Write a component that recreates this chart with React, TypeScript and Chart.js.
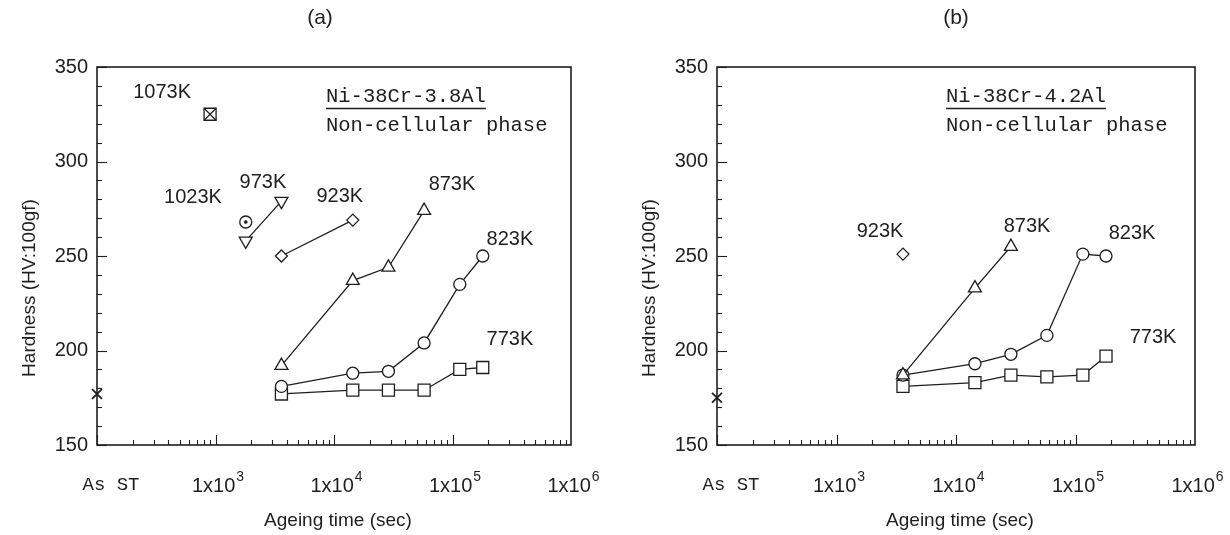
import React, { useEffect, useRef } from "react";
import { Chart, registerables } from "chart.js";

Chart.register(...registerables);

// ---------- data ----------
const AS_ST_TIME = 100; // "As ST" is plotted at the left end of the time axis
const xTickValues = [100, 1000, 10000, 100000, 1000000];
const xTickBases = ["As ST", "1x10", "1x10", "1x10", "1x10"];
const xTickExps = ["", "3", "4", "5", "6"];
const yMin = 150;
const yMax = 350;
const yStep = 50;
const yMinorStep = 10;

// Panel (a) Ni-38Cr-3.8Al
const aAsStHardness = [177];
const a773Time = [3600, 14400, 28800, 57600, 115200, 180000];
const a773Hard = [177, 179, 179, 179, 190, 191];
const a823Time = [3600, 14400, 28800, 57600, 115200, 180000];
const a823Hard = [181, 188, 189, 204, 235, 250];
const a873Time = [3600, 14400, 28800, 57600];
const a873Hard = [192, 237, 244, 274];
const a923Time = [3600, 14400];
const a923Hard = [250, 269];
const a973Time = [1800, 3600];
const a973Hard = [258, 279];
const a1023Time = [1800];
const a1023Hard = [268];
const a1073Time = [900];
const a1073Hard = [325];

// Panel (b) Ni-38Cr-4.2Al
const bAsStHardness = [175];
const b773Time = [3600, 14400, 28800, 57600, 115200, 180000];
const b773Hard = [181, 183, 187, 186, 187, 197];
const b823Time = [3600, 14400, 28800, 57600, 115200, 180000];
const b823Hard = [187, 193, 198, 208, 251, 250];
const b873Time = [3600, 14400, 28800];
const b873Hard = [187, 233, 255];
const b923Time = [3600];
const b923Hard = [251];

// temperature labels (text, time, hardness)
const aLabelText = ["1073K", "1023K", "973K", "923K", "873K", "823K", "773K"];
const aLabelTime = [354, 646, 2512, 11200, 99000, 305000, 305000];
const aLabelHard = [336.5, 281, 289, 281.5, 288, 258.5, 206];
const bLabelText = ["923K", "873K", "823K", "773K"];
const bLabelTime = [2312, 39300, 297000, 446000];
const bLabelHard = [263, 265.5, 262, 207];

// ---------- styles ----------
const INK = "#1e1e1e";
const SANS = "'Liberation Sans', Arial, sans-serif";
const MONO = "'Liberation Mono', 'DejaVu Sans Mono', monospace";

function pts(times: number[], hard: number[]) {
  return times.map((t, i) => ({ x: t, y: hard[i] }));
}

function series(times: number[], hard: number[], style: string, radius: number, extra: any = {}) {
  return {
    data: pts(times, hard),
    showLine: times.length > 1,
    borderColor: INK,
    borderWidth: 1.3,
    pointStyle: style,
    pointRadius: radius,
    pointBorderColor: INK,
    pointBackgroundColor: "#ffffff",
    pointBorderWidth: 1.3,
    clip: false,
    ...extra,
  };
}

function asStSeries(h: number[]) {
  return series(
    h.map(() => AS_ST_TIME),
    h,
    "crossRot",
    7,
    { showLine: false, pointBorderWidth: 1.8 }
  );
}

function makeDecor(cfg: any) {
  return {
    id: "decor",
    afterDraw(chart: any) {
      const { ctx, chartArea: a, scales } = chart;
      const xs = scales.x;
      const ys = scales.y;
      ctx.save();
      ctx.strokeStyle = INK;
      ctx.fillStyle = INK;
      // frame
      ctx.lineWidth = 1.6;
      ctx.strokeRect(a.left, a.top, a.right - a.left, a.bottom - a.top);
      // y ticks (inward)
      ctx.lineWidth = 1.1;
      for (let v = yMin; v <= yMax; v += yMinorStep) {
        const py = Math.round(ys.getPixelForValue(v)) + 0.5;
        const len = v % yStep === 0 ? 10 : 5;
        ctx.beginPath();
        ctx.moveTo(a.left, py);
        ctx.lineTo(a.left + len, py);
        ctx.stroke();
      }
      // x ticks (inward, log)
      for (let d = 2; d <= 5; d++) {
        for (let m = 1; m <= 9; m++) {
          const t = m * Math.pow(10, d);
          const px = Math.round(xs.getPixelForValue(t)) + 0.5;
          const len = m === 1 ? 10 : 5;
          ctx.beginPath();
          ctx.moveTo(px, a.bottom);
          ctx.lineTo(px, a.bottom - len);
          ctx.stroke();
        }
      }
      // x tick labels
      ctx.textBaseline = "middle";
      xTickValues.forEach((v, i) => {
        const px = xs.getPixelForValue(v);
        const base = xTickBases[i];
        const exp = xTickExps[i];
        const ly = a.bottom + 41;
        if (!exp) {
          ctx.font = `19px ${MONO}`;
          ctx.textAlign = "center";
          ctx.fillText(base, px + 14, ly - 1);
        } else {
          ctx.font = `20px ${SANS}`;
          const wb = ctx.measureText(base).width;
          ctx.font = `14px ${SANS}`;
          const we = ctx.measureText(exp).width;
          const x0 = px - (wb + we) / 2 + 2;
          ctx.textAlign = "left";
          ctx.font = `20px ${SANS}`;
          ctx.fillText(base, x0, ly);
          ctx.font = `14px ${SANS}`;
          ctx.fillText(exp, x0 + wb + 1, ly - 9);
        }
      });
      // axis titles
      ctx.font = `19px ${SANS}`;
      ctx.textAlign = "center";
      ctx.fillText("Ageing time (sec)", (a.left + a.right) / 2 + 4, 521);
      ctx.save();
      ctx.translate(a.left - 67, 288);
      ctx.rotate(-Math.PI / 2);
      ctx.fillText("Hardness (HV:100gf)", 0, 0);
      ctx.restore();
      // panel label
      ctx.font = `21px ${SANS}`;
      ctx.fillText(cfg.panel, cfg.panelX, 18);
      // composition text
      ctx.font = `20.5px ${MONO}`;
      ctx.textAlign = "left";
      const tx = a.left + 229;
      ctx.fillText(cfg.alloy, tx, 97);
      const w = ctx.measureText(cfg.alloy).width;
      ctx.lineWidth = 1.4;
      ctx.beginPath();
      ctx.moveTo(tx, 108.5);
      ctx.lineTo(tx + w, 108.5);
      ctx.stroke();
      ctx.fillText("Non-cellular phase", tx, 126);
      // temperature labels
      ctx.font = `20px ${SANS}`;
      ctx.textAlign = "center";
      cfg.labelText.forEach((s: string, i: number) => {
        ctx.fillText(s, xs.getPixelForValue(cfg.labelTime[i]), ys.getPixelForValue(cfg.labelHard[i]));
      });
      ctx.restore();
    },
  };
}

function makeConfig(datasets: any[], yAxisWidth: number, rightPad: number, decor: any) {
  return {
    type: "scatter",
    data: { datasets },
    options: {
      responsive: false,
      animation: false,
      devicePixelRatio: 1,
      events: [],
      layout: { padding: { top: 67, right: rightPad, left: 0, bottom: 0 } },
      plugins: { legend: { display: false }, tooltip: { enabled: false }, title: { display: false } },
      scales: {
        x: {
          type: "logarithmic",
          min: 100,
          max: 1000000,
          grid: { display: false, drawTicks: false },
          border: { display: false },
          ticks: { display: false },
          afterFit: (s: any) => {
            s.height = 90;
          },
        },
        y: {
          type: "linear",
          min: yMin,
          max: yMax,
          grid: { display: false, drawTicks: false },
          border: { display: false },
          ticks: {
            stepSize: yStep,
            padding: 9,
            color: INK,
            font: { family: SANS, size: 20 },
          },
          afterFit: (s: any) => {
            s.width = yAxisWidth;
          },
        },
      },
    },
    plugins: [decor],
  };
}

function datasetsA() {
  return [
    asStSeries(aAsStHardness),
    series(a1073Time, a1073Hard, "crossRot", 8.5, { pointBorderWidth: 1.2 }),
    series(a1073Time, a1073Hard, "rect", 8.5),
    series(a1023Time, a1023Hard, "circle", 1.6, { pointBackgroundColor: INK, pointBorderWidth: 0.5 }),
    series(a1023Time, a1023Hard, "circle", 6),
    series(a973Time, a973Hard, "triangle", 7.5, { pointRotation: 180 }),
    series(a923Time, a923Hard, "rectRot", 6),
    series(a873Time, a873Hard, "triangle", 7.5),
    series(a823Time, a823Hard, "circle", 6),
    series(a773Time, a773Hard, "rect", 8.5),
  ];
}

function datasetsB() {
  return [
    asStSeries(bAsStHardness),
    series(b923Time, b923Hard, "rectRot", 6),
    series(b873Time, b873Hard, "triangle", 7.5),
    series(b823Time, b823Hard, "circle", 6),
    series(b773Time, b773Hard, "rect", 8.5),
  ];
}

export default function App() {
  const leftRef = useRef<HTMLCanvasElement | null>(null);
  const rightRef = useRef<HTMLCanvasElement | null>(null);

  useEffect(() => {
    const ca = new Chart(
      leftRef.current as HTMLCanvasElement,
      makeConfig(
        datasetsA(),
        97,
        44,
        makeDecor({
          panel: "(a)",
          panelX: 320,
          alloy: "Ni-38Cr-3.8Al",
          labelText: aLabelText,
          labelTime: aLabelTime,
          labelHard: aLabelHard,
        })
      ) as any
    );
    const cb = new Chart(
      rightRef.current as HTMLCanvasElement,
      makeConfig(
        datasetsB(),
        102,
        35,
        makeDecor({
          panel: "(b)",
          panelX: 341,
          alloy: "Ni-38Cr-4.2Al",
          labelText: bLabelText,
          labelTime: bLabelTime,
          labelHard: bLabelHard,
        })
      ) as any
    );
    return () => {
      ca.destroy();
      cb.destroy();
    };
  }, []);

  return (
    <div style={{ position: "absolute", left: 0, top: 0, width: 1230, height: 535, background: "#fff" }}>
      <canvas ref={leftRef} width={615} height={535} style={{ position: "absolute", left: 0, top: 0 }} />
      <canvas ref={rightRef} width={615} height={535} style={{ position: "absolute", left: 615, top: 0 }} />
    </div>
  );
}
